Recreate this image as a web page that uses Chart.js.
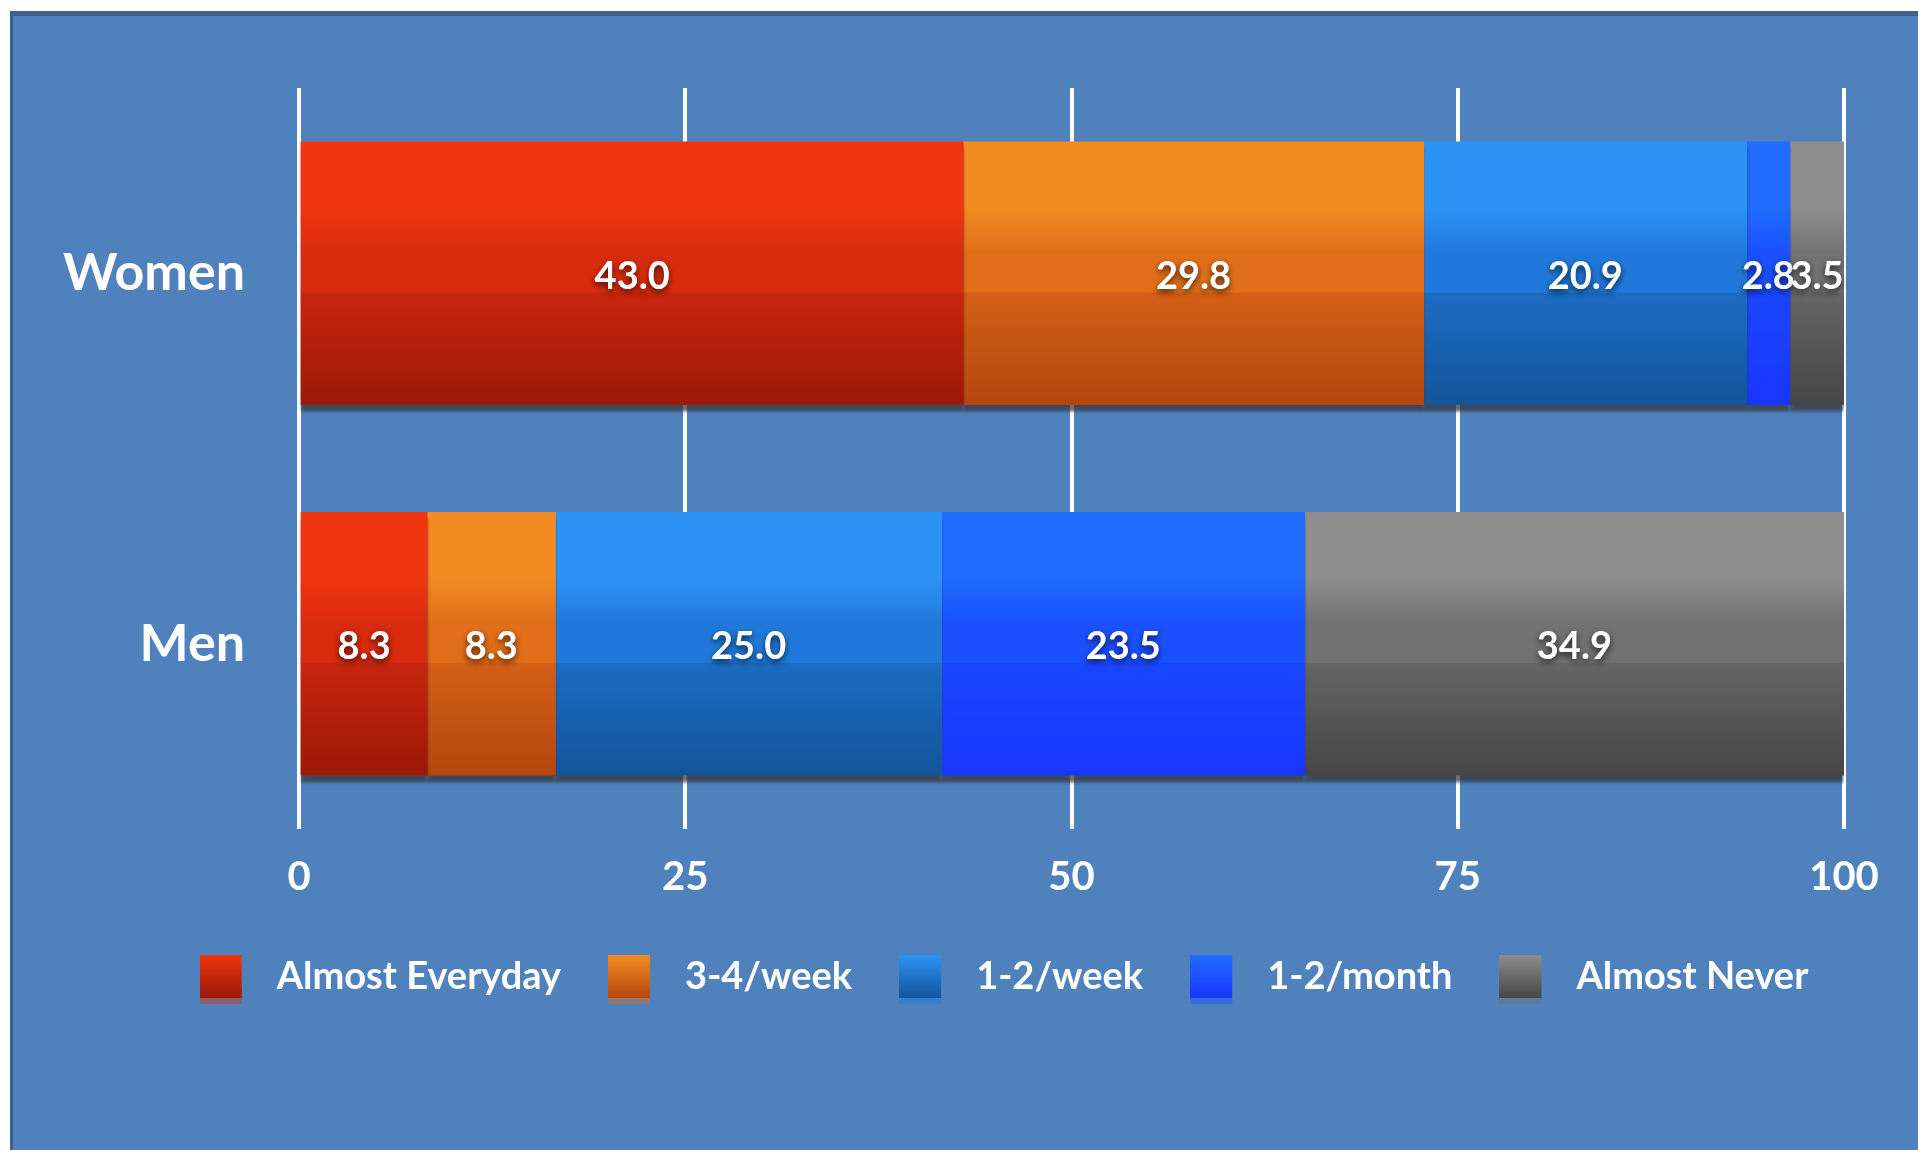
<!DOCTYPE html>
<html>
<head>
<meta charset="utf-8">
<title>Frequency by gender</title>
<script src="https://cdn.jsdelivr.net/npm/chart.js@4.4.1/dist/chart.umd.min.js"></script>
<style>
  html, body { margin: 0; padding: 0; background: #fff; }
  #panel { position: absolute; left: 10px; top: 11px; width: 1908px; height: 1139px; box-sizing: border-box;
           background: #4f81bd; border-top: 5px solid #3c6190; border-left: 3px solid #3c6190; }
  #wrap { position: absolute; left: 0; top: 0; width: 1918px; height: 1150px; }
</style>
</head>
<body>
<div id="panel"></div>
<div id="wrap"><canvas id="myChart"></canvas></div>
<script>
const groups = ['Women', 'Men'];
const seriesNames = ['Almost Everyday', '3-4/week', '1-2/week', '1-2/month', 'Almost Never'];
const almostEveryday = [43.0, 8.3];
const perWeek34 = [29.8, 8.3];
const perWeek12 = [20.9, 25.0];
const perMonth12 = [2.8, 23.5];
const almostNever = [3.5, 34.9];
const xTicks = [0, 25, 50, 75, 100];

const FONT = 'Lato';
const BAR_H = 263;

// top / band / below-band / bottom shades for each series
const shades = [
    ['#f0360f', '#d92b0f', '#c8260d', '#9c1807'],
    ['#f38b22', '#e16f1a', '#d35f16', '#b5470e'],
    ['#2c93f6', '#2079da', '#1c6cc4', '#13559b'],
    ['#1f6cff', '#1a50ff', '#1a46ff', '#1936ff'],
    ['#8e8e8e', '#727272', '#656565', '#464646']
];

function barGradient(context, cols) {
    const chart = context.chart;
    const y = chart.scales.y;
    if (!y || context.type !== 'data') return cols[1];
    const cy = y.getPixelForValue(context.dataIndex);
    const top = cy - BAR_H / 2;
    const g = chart.ctx.createLinearGradient(0, top, 0, top + BAR_H);
    g.addColorStop(0, cols[0]);
    g.addColorStop(0.25, cols[0]);
    g.addColorStop(0.42, cols[1]);
    g.addColorStop(0.57, cols[1]);
    g.addColorStop(0.575, cols[2]);
    g.addColorStop(1, cols[3]);
    return g;
}

function legendIcon(cols) {
    const c = document.createElement('canvas');
    c.width = 58;
    c.height = 56;
    const g = c.getContext('2d');
    const grad = g.createLinearGradient(0, 6, 0, 49);
    grad.addColorStop(0, cols[0]);
    grad.addColorStop(1, cols[3]);
    g.fillStyle = grad;
    g.fillRect(0, 6, 42, 43);
    g.globalAlpha = 0.45;
    g.fillStyle = cols[1];
    g.fillRect(0, 49, 42, 6);
    return c;
}
const icons = shades.map(legendIcon);

const seriesData = [almostEveryday, perWeek34, perWeek12, perMonth12, almostNever];

// bar shadows + value labels
const barDecor = {
    id: 'barDecor',
    beforeDatasetsDraw(chart) {
        const ctx = chart.ctx;
        ctx.save();
        ctx.shadowColor = 'rgba(50,50,50,0.7)';
        ctx.shadowOffsetY = 7;
        ctx.shadowBlur = 3;
    },
    afterDatasetsDraw(chart) {
        const ctx = chart.ctx;
        ctx.restore();
        ctx.save();
        ctx.font = 'bold 38px ' + FONT;
        ctx.fillStyle = '#fff';
        ctx.textAlign = 'center';
        ctx.textBaseline = 'middle';
        ctx.shadowColor = 'rgba(0,0,0,0.7)';
        ctx.shadowOffsetY = 3;
        ctx.shadowBlur = 6;
        chart.data.datasets.forEach((ds, i) => {
            chart.getDatasetMeta(i).data.forEach((bar, j) => {
                ctx.fillText(ds.data[j].toFixed(1), (bar.x + bar.base) / 2, bar.y + 3);
            });
        });
        ctx.restore();
    },
    afterLayout(chart) {
        // legend sits a bit right of centre in the original
        chart.legend.left += 82;
        chart.legend.right += 82;
    }
};

const ctx = document.getElementById('myChart').getContext('2d');
const myChart = new Chart(ctx, {
    type: 'bar',
    data: {
        labels: groups,
        datasets: seriesNames.map((name, i) => ({
            label: name,
            data: seriesData[i],
            backgroundColor: c => barGradient(c, shades[i]),
            borderWidth: 0,
            barThickness: BAR_H
        }))
    },
    options: {
        indexAxis: 'y',
        responsive: true,
        maintainAspectRatio: false,
        animation: false,
        layout: { padding: { top: 88, right: 74, bottom: 144, left: 0 } },
        scales: {
            x: {
                stacked: true,
                min: 0,
                max: 100,
                afterBuildTicks: s => { s.ticks = xTicks.map(v => ({ value: v })); },
                afterFit: s => { s.height = 82; },
                grid: { color: '#fff', lineWidth: 4, drawTicks: false },
                border: { display: false },
                ticks: { color: '#fff', padding: 24, font: { family: FONT, size: 40, weight: 'bold' } }
            },
            y: {
                stacked: true,
                afterFit: s => { s.width = 299; },
                grid: { display: false, drawTicks: false },
                border: { display: false },
                ticks: { color: '#fff', padding: 54, font: { family: FONT, size: 52, weight: 'bold' } }
            }
        },
        plugins: {
            tooltip: { enabled: false },
            legend: {
                position: 'bottom',
                labels: {
                    usePointStyle: true,
                    pointStyleWidth: 58,
                    padding: 47,
                    color: '#fff',
                    font: { family: FONT, size: 38, weight: 'bold' },
                    generateLabels: chart => chart.data.datasets.map((ds, i) => ({
                        text: ds.label,
                        pointStyle: icons[i],
                        fillStyle: 'rgba(0,0,0,0)',
                        strokeStyle: 'rgba(0,0,0,0)',
                        lineWidth: 0,
                        fontColor: '#fff',
                        datasetIndex: i,
                        hidden: false
                    }))
                }
            }
        }
    },
    plugins: [barDecor]
});
</script>
</body>
</html>
